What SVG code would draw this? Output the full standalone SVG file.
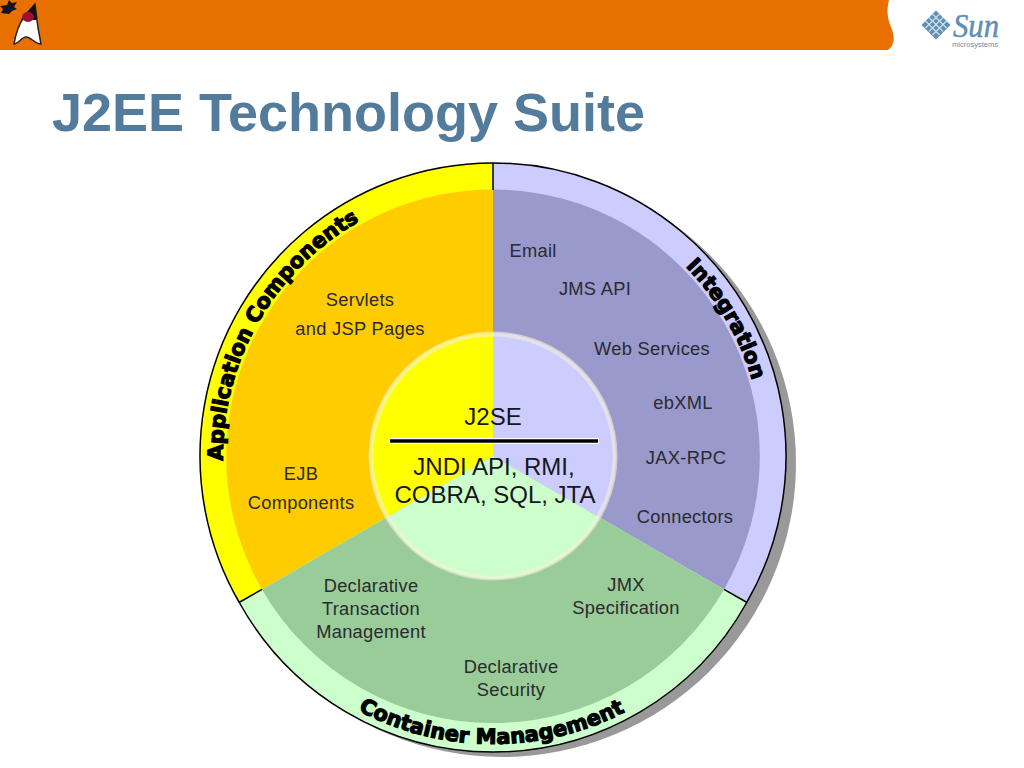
<svg xmlns="http://www.w3.org/2000/svg" width="1024" height="768" viewBox="0 0 1024 768">
<style>
.l{font-family:"Liberation Sans",Arial,sans-serif;font-size:18.300px;fill:#2a2a30;text-anchor:middle;letter-spacing:.3px}
.c{font-family:"Liberation Sans",Arial,sans-serif;font-size:24px;fill:#16161c;text-anchor:middle}
.h{font-family:"DejaVu Sans",sans-serif;font-weight:bold;font-size:21px;fill:#000;stroke:#000;stroke-width:1.200px}
.d{stroke:#000;stroke-width:1.500;fill:none}
</style>
<defs>
<path id="pa" d="M 222.900 456 A 270 270 0 0 1 493 186" transform="rotate(-1 493 456)"/>
<path id="pi" d="M 493 186 A 270 270 0 0 1 763 456"/>
<path id="pc" d="M 243.600 600 A 288 288 0 0 0 742.400 600"/>
</defs>
<rect width="1024" height="768" fill="#fff"/>
<g id="header">
<path d="M0 0H889C886 12 888 20 891 27C895 36 895 45 888 50H0Z" fill="#e87000"/>
<g id="duke">
<path d="M14 44C16 32 19 24 24 17L35 4L38 28L41 44C35 44 31 37 26 37C22 37 18 44 14 44Z" fill="#fff" stroke="#222" stroke-width="1.500"/>
<path d="M35 4L37 20L21 20L26 13Z" fill="#111"/>
<ellipse cx="28" cy="17" rx="6" ry="5" fill="#a01030"/>
<path d="M1 13L3 9L0 6L7 5L9 0L12 3L17 2L14 7L17 9L12 11L9 14Z" fill="#15151f"/>
</g>
<g id="sun-logo">
<path d="M936 10.500L950.500 25L936 39.500L921.500 25Z" fill="#5f8fb2"/>
<path d="M929 17.500L943 31.500M925.500 21L939.500 35M932.500 14L946.500 28M943 17.500L929 31.500M946.500 21L932.500 35M939.500 14L925.500 28" stroke="#cfe0ea" stroke-width="1.200" fill="none"/>
<text x="953" y="37" font-family="'Liberation Serif',serif" font-style="italic" font-size="33" fill="#5f8fb2" stroke="#5f8fb2" stroke-width=".5" textLength="46" lengthAdjust="spacingAndGlyphs">Sun</text>
<text x="952" y="46.500" font-family="'Liberation Sans',sans-serif" font-size="7.500" fill="#6a8ea8" textLength="46" lengthAdjust="spacingAndGlyphs">microsystems</text>
</g>
</g>
<text id="title" x="52" y="131" font-family="'Liberation Sans',Arial,sans-serif" font-weight="bold" font-size="54" fill="#527b9c" textLength="593" lengthAdjust="spacingAndGlyphs">J2EE Technology Suite</text>
<g id="diagram">
<circle cx="502" cy="463" r="294" fill="#999"/>
<g id="application-components">
<path d="M493 456L239.300 602.500A293 293 0 0 1 493 163Z" fill="#ffff00"/>
<path d="M493 456L262 589.400A266.500 266.500 0 0 1 493 189.500Z" fill="#ffcc00"/>
<text class="h"><textPath href="#pa" startOffset="0">Application Components</textPath></text>
<text class="l" x="360" y="306">Servlets</text>
<text class="l" x="360" y="335">and JSP Pages</text>
<text class="l" x="301" y="480">EJB</text>
<text class="l" x="301" y="509">Components</text>
</g>
<g id="integration">
<path d="M493 456V163A293 293 0 0 1 746.700 602.500Z" fill="#ccccff"/>
<path d="M493 456V189.500A266.500 266.500 0 0 1 724 589.400Z" fill="#9999cc"/>
<text class="h"><textPath href="#pi" startOffset="214">Integration</textPath></text>
<text class="l" x="533" y="257">Email</text>
<text class="l" x="595" y="295">JMS API</text>
<text class="l" x="652" y="355">Web Services</text>
<text class="l" x="683" y="409">ebXML</text>
<text class="l" x="686" y="464">JAX-RPC</text>
<text class="l" x="685" y="523">Connectors</text>
</g>
<g id="container-management">
<path d="M493 456L239.300 602.500A290 290 0 0 0 746.700 602.500Z" fill="#ccffcc"/>
<path d="M493 456L262 589.400A266.500 266.500 0 0 0 724 589.400Z" fill="#99cc99"/>
<text class="h"><textPath href="#pc" startOffset="161">Container Management</textPath></text>
<text class="l" x="371" y="592">Declarative</text>
<text class="l" x="371" y="615">Transaction</text>
<text class="l" x="371" y="638">Management</text>
<text class="l" x="626" y="591">JMX</text>
<text class="l" x="626" y="614">Specification</text>
<text class="l" x="511" y="673">Declarative</text>
<text class="l" x="511" y="696">Security</text>
</g>
<g id="j2se">
<path d="M493 456L386.500 517.500A123 123 0 0 1 493 333Z" fill="#ffff00"/>
<path d="M493 456V333A123 123 0 0 1 599.500 517.500Z" fill="#ccccff"/>
<path d="M493 456L386.500 517.500A123 123 0 0 0 599.500 517.500Z" fill="#ccffcc"/>
<circle cx="493" cy="456" r="122" fill="none" stroke="#f4f0d8" stroke-opacity=".6" stroke-width="5"/>
<text class="c" x="493" y="425">J2SE</text>
<line x1="389" y1="441" x2="599" y2="441" stroke="#fff" stroke-width="6"/>
<line x1="390" y1="441" x2="598" y2="441" stroke="#000" stroke-width="3.500"/>
<text class="c" x="494" y="475">JNDI API, RMI,</text>
<text class="c" x="495" y="503">COBRA, SQL, JTA</text>
</g>
</g>
<g id="connectors">
<path class="d" d="M239.300 602.500A293 293 0 1 1 746.700 602.500"/>
<path class="d" d="M239.300 602.500A290 290 0 0 0 746.700 602.500"/>
<line class="d" x1="493" y1="163" x2="493" y2="190"/>
<line class="d" x1="239" y1="602.500" x2="262" y2="589.400"/>
<line class="d" x1="747" y1="602.500" x2="724" y2="589.400"/>
</g>
</svg>
